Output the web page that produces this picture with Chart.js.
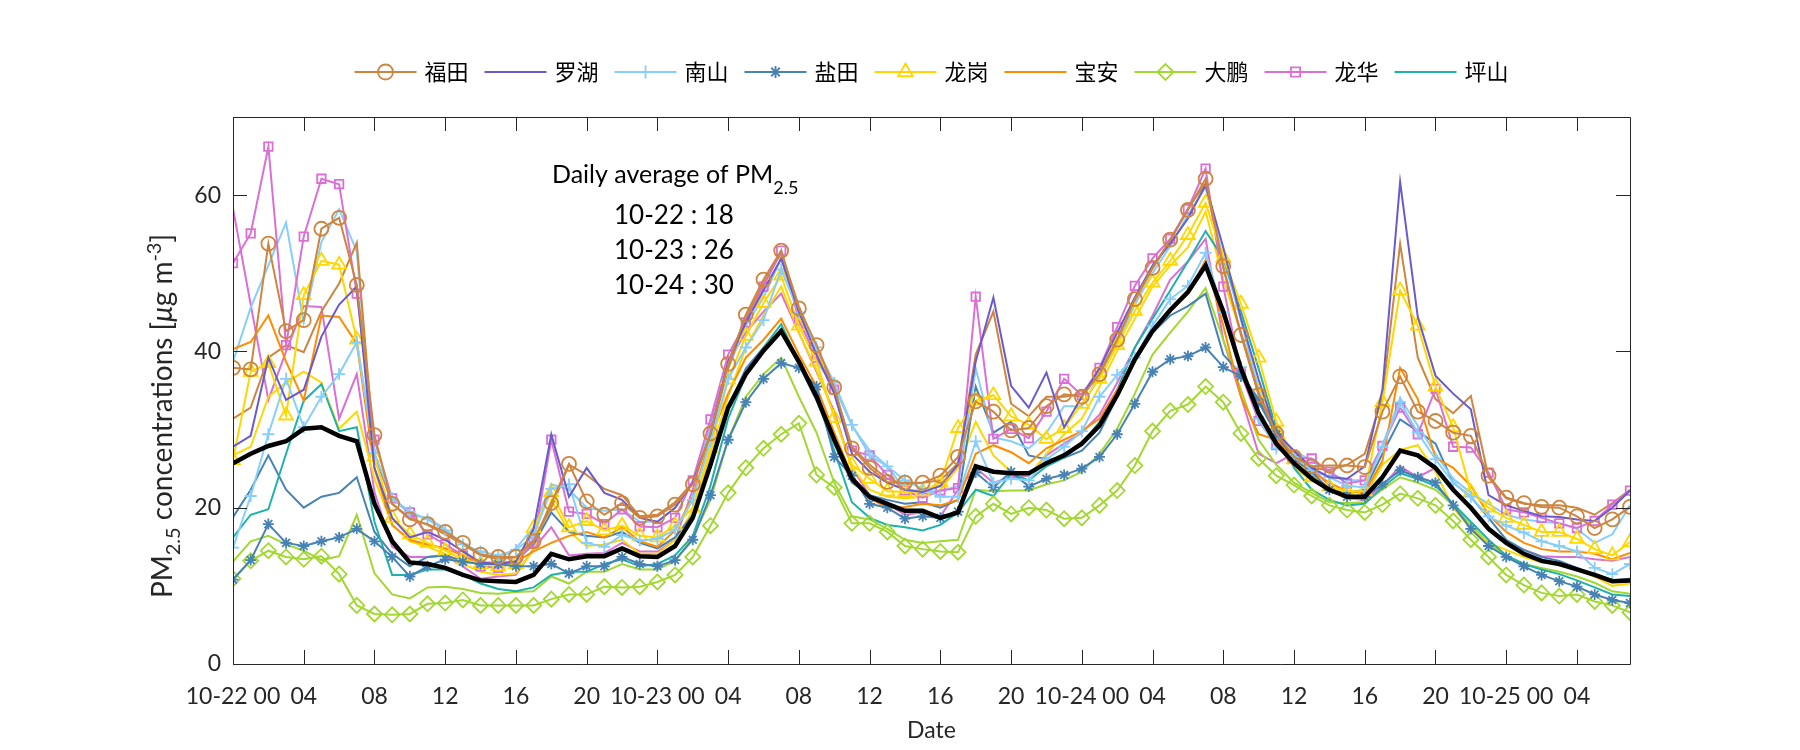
<!DOCTYPE html>
<html>
<head>
<meta charset="utf-8">
<script src="https://cdn.jsdelivr.net/npm/chart.js"></script>
<style>
  body { margin: 0; background: #fff; }
  #wrap { width: 1800px; height: 750px; }
</style>
</head>
<body>
<div id="wrap"><canvas id="pm" width="1800" height="750"></canvas></div>
<script>
// hourly PM2.5, 10-22 00 to 10-25 07 (80 hours)
const days = ['10-22', '10-23', '10-24', '10-25'];
const hours = Array.from({ length: 80 }, (_, i) => i);
const yTicks = [0, 20, 40, 60];

const futian = [37.9, 37.7, 53.8, 42.6, 44.0, 55.7, 57.1, 48.5, 29.3, 20.5, 18.5, 17.9, 16.9, 15.5, 14.0, 13.7, 13.7, 15.7, 20.6, 25.6,
  20.8, 19.1, 20.6, 18.7, 18.9, 20.4, 23.0, 29.5, 38.4, 44.7, 49.2, 52.9, 45.5, 40.8, 35.4, 27.6, 25.1, 23.3, 23.2, 23.2,
  24.1, 26.5, 33.6, 32.3, 29.9, 30.2, 33.0, 34.5, 34.2, 37.1, 41.5, 46.7, 50.7, 54.3, 58.1, 62.1, 50.9, 42.1, 34.4, 29.5,
  26.5, 25.3, 25.4, 25.4, 25.2, 32.3, 36.8, 32.3, 31.1, 29.6, 29.2, 24.1, 21.3, 20.6, 20.1, 20.0, 18.9, 17.4, 18.5, 20.1];
const luohu = [27.8, 29.2, 39.2, 33.8, 35.1, 41.9, 46.0, 48.3, 25.1, 18.7, 16.2, 16.9, 15.9, 14.4, 13.0, 12.8, 13.1, 17.3, 29.4, 21.4,
  25.1, 21.9, 21.0, 18.7, 18.2, 20.0, 23.2, 29.4, 38.7, 43.7, 47.8, 51.9, 45.1, 39.6, 34.6, 26.9, 24.6, 23.2, 22.3, 22.0,
  22.8, 25.5, 38.7, 46.9, 35.6, 32.8, 37.3, 30.3, 34.2, 37.8, 42.4, 46.9, 51.0, 53.8, 57.0, 61.3, 53.3, 44.2, 36.4, 29.6,
  27.3, 25.1, 23.9, 23.7, 25.3, 35.1, 61.7, 44.4, 36.9, 34.6, 32.6, 21.6, 20.3, 19.6, 18.9, 18.8, 18.5, 18.3, 20.0, 22.2];
const nanshan = [14.9, 21.5, 29.4, 36.5, 30.3, 34.2, 37.1, 41.2, 27.0, 21.2, 19.5, 18.5, 17.1, 15.3, 14.4, 13.9, 14.6, 16.4, 22.4, 23.0,
  15.5, 15.0, 16.5, 15.8, 16.0, 17.2, 21.0, 28.5, 36.5, 40.5, 44.0, 50.5, 45.0, 40.5, 36.0, 30.6, 26.7, 25.3, 23.5, 22.4,
  21.4, 21.4, 28.5, 23.2, 23.7, 23.5, 26.2, 27.8, 29.8, 34.2, 37.0, 39.2, 43.3, 46.7, 48.4, 52.6, 45.0, 38.0, 31.4, 27.6,
  26.5, 24.8, 23.9, 22.8, 22.6, 27.8, 33.5, 29.6, 26.2, 23.2, 21.4, 18.9, 17.7, 16.8, 15.7, 15.1, 14.4, 12.3, 11.5, 12.8];
const yantian = [10.8, 13.3, 17.9, 15.5, 15.1, 15.7, 16.2, 17.3, 15.7, 13.7, 11.2, 12.5, 13.4, 13.1, 12.8, 12.8, 12.5, 12.5, 12.8, 11.6,
  12.5, 12.5, 13.7, 12.8, 12.5, 13.3, 15.9, 21.6, 28.7, 33.5, 36.5, 38.5, 37.9, 35.5, 26.5, 24.1, 20.5, 20.0, 18.6, 18.9,
  18.7, 19.5, 24.5, 22.6, 24.6, 22.7, 23.7, 24.2, 25.0, 26.5, 29.4, 33.3, 37.4, 39.0, 39.4, 40.5, 38.0, 36.8, 33.5, 29.4,
  26.2, 24.6, 22.3, 21.4, 21.4, 23.0, 24.8, 23.9, 23.2, 20.3, 17.3, 15.1, 13.7, 12.5, 11.4, 10.6, 9.9, 8.9, 8.2, 7.8];
const longgang = [26.1, 37.4, 38.5, 31.8, 47.2, 51.6, 51.1, 41.5, 26.5, 18.7, 16.6, 15.5, 14.5, 13.4, 12.8, 12.5, 12.8, 17.4, 22.0, 17.5,
  18.3, 17.1, 17.7, 16.4, 16.2, 17.7, 20.0, 27.6, 36.4, 42.0, 46.2, 49.7, 43.3, 38.7, 31.5, 25.5, 23.7, 22.1, 22.0, 22.1,
  23.2, 30.2, 33.7, 34.4, 31.7, 30.6, 28.8, 30.2, 33.3, 36.5, 40.8, 45.2, 48.8, 51.6, 54.9, 59.0, 52.0, 46.1, 39.2, 31.0,
  26.2, 23.9, 22.7, 22.1, 22.1, 33.5, 47.8, 43.3, 35.5, 30.3, 22.0, 20.0, 18.7, 17.8, 16.9, 16.9, 16.0, 14.7, 13.9, 15.6];
const baoan = [40.3, 41.2, 44.6, 38.7, 33.7, 44.6, 44.4, 41.0, 25.0, 17.8, 15.9, 15.3, 14.8, 13.9, 13.0, 13.0, 13.1, 14.4, 15.5, 16.4,
  16.9, 16.2, 17.5, 15.7, 15.0, 17.1, 21.4, 28.9, 34.6, 39.2, 41.5, 44.2, 39.6, 35.5, 29.6, 24.1, 21.2, 20.0, 20.1, 20.5,
  20.3, 21.0, 26.9, 28.0, 27.1, 25.7, 27.6, 28.7, 29.8, 31.4, 35.1, 38.7, 42.6, 45.1, 47.4, 51.7, 43.3, 34.2, 29.4, 28.7,
  26.2, 24.6, 23.2, 22.1, 21.9, 26.0, 37.9, 33.9, 26.4, 25.1, 22.8, 19.1, 16.9, 15.5, 14.7, 14.4, 14.4, 14.1, 13.4, 14.2];
const dapeng = [10.9, 13.2, 14.5, 13.7, 13.4, 13.8, 11.5, 7.5, 6.4, 6.3, 6.4, 7.7, 7.8, 8.2, 7.5, 7.5, 7.5, 7.5, 8.3, 8.9,
  8.9, 9.9, 9.8, 9.9, 10.5, 11.4, 13.7, 17.7, 21.9, 25.1, 27.6, 29.4, 30.8, 24.2, 22.6, 18.0, 18.0, 16.9, 15.1, 14.7,
  14.4, 14.3, 18.9, 20.5, 19.2, 20.0, 19.7, 18.6, 18.7, 20.3, 22.2, 25.4, 29.8, 32.4, 33.2, 35.5, 33.5, 29.5, 26.3, 24.1,
  22.9, 21.5, 20.3, 19.7, 19.4, 20.4, 21.8, 21.2, 20.3, 18.3, 15.9, 13.7, 11.4, 10.1, 9.1, 8.7, 8.9, 8.0, 7.5, 6.6];
const longhua = [51.3, 55.1, 66.2, 40.8, 54.7, 62.1, 61.4, 47.4, 28.7, 21.2, 19.4, 16.6, 15.3, 13.9, 12.5, 12.3, 13.1, 15.5, 28.7, 19.5,
  19.2, 17.9, 19.8, 17.6, 17.5, 18.7, 23.5, 31.3, 39.6, 43.7, 48.3, 52.9, 44.0, 39.2, 35.1, 27.3, 26.7, 24.2, 22.2, 21.3,
  22.2, 22.5, 47.0, 28.8, 30.1, 28.9, 32.3, 36.5, 34.4, 37.9, 43.1, 48.4, 51.9, 54.4, 58.2, 63.4, 48.3, 37.2, 31.1, 28.0,
  26.4, 26.3, 24.6, 23.1, 23.5, 27.9, 32.8, 29.4, 35.2, 27.8, 27.7, 24.5, 19.8, 19.4, 18.7, 18.0, 17.4, 18.3, 20.4, 22.2];
const pingshan = [16.2, 19.1, 19.8, 26.9, 33.7, 35.8, 29.8, 30.3, 18.2, 11.4, 11.4, 12.1, 12.1, 11.4, 10.3, 9.6, 9.3, 9.8, 11.4, 11.8,
  11.8, 12.8, 13.4, 12.5, 12.8, 13.9, 16.4, 22.8, 31.4, 36.9, 40.5, 43.5, 38.7, 34.2, 27.3, 20.7, 18.7, 17.8, 17.5, 17.1,
  17.8, 19.4, 22.3, 21.5, 24.4, 23.5, 25.3, 26.4, 28.2, 31.0, 35.1, 40.5, 44.2, 47.8, 51.5, 55.4, 51.9, 45.1, 37.8, 30.1,
  25.1, 22.3, 21.0, 20.3, 20.5, 22.6, 24.4, 23.7, 22.8, 20.5, 18.2, 15.9, 13.9, 12.8, 12.1, 11.5, 10.7, 9.8, 8.9, 8.7];
const cityMean = [25.7, 26.9, 27.9, 28.5, 30.1, 30.3, 29.2, 28.5, 20.5, 15.7, 13.0, 12.8, 12.3, 11.4, 10.7, 10.6, 10.5, 11.4, 14.1, 13.4,
  13.8, 13.8, 14.8, 13.8, 13.7, 15.1, 18.7, 25.5, 32.8, 37.1, 40.1, 42.6, 38.7, 34.2, 28.7, 23.7, 21.4, 20.5, 19.6, 19.6,
  18.7, 19.4, 25.3, 24.6, 24.4, 24.4, 25.7, 26.7, 28.2, 30.5, 34.4, 39.0, 42.6, 45.3, 47.6, 51.0, 45.1, 37.8, 32.1, 28.2,
  25.7, 23.7, 22.3, 21.4, 21.4, 23.9, 27.3, 26.7, 25.1, 22.3, 20.0, 17.3, 15.5, 14.1, 13.2, 12.8, 12.1, 11.4, 10.6, 10.7];

// second set of stations, plotted without markers and left out of the legend
const futianB = [31.4, 32.8, 39.2, 40.8, 39.9, 45.1, 48.7, 53.9, 26.9, 20.5, 18.7, 17.8, 16.6, 15.3, 13.9, 13.4, 13.7, 15.9, 20.0, 25.5,
  24.2, 22.4, 21.6, 18.9, 19.1, 20.7, 23.2, 29.2, 37.8, 44.2, 48.7, 52.6, 45.8, 40.5, 35.1, 27.8, 25.5, 23.7, 23.0, 23.2,
  23.5, 25.7, 39.6, 45.1, 33.3, 31.7, 34.2, 34.2, 34.6, 37.4, 41.5, 46.5, 50.6, 54.2, 58.3, 61.5, 50.6, 42.4, 34.6, 30.1,
  26.9, 25.1, 24.8, 25.5, 26.9, 34.2, 53.8, 39.2, 33.9, 32.1, 34.3, 23.9, 21.2, 20.5, 20.3, 20.3, 20.0, 19.1, 20.6, 22.3];
const nanshanB = [38.7, 45.6, 51.0, 56.5, 43.7, 54.0, 58.2, 52.8, 26.0, 21.4, 19.1, 18.7, 17.3, 15.3, 14.1, 13.4, 14.8, 17.5, 23.0, 22.3,
  20.0, 19.6, 19.8, 18.2, 18.2, 20.0, 23.2, 30.1, 37.8, 43.3, 46.9, 51.9, 44.4, 38.7, 35.5, 30.5, 27.3, 25.3, 22.3, 22.1,
  22.1, 22.8, 37.8, 29.0, 28.5, 27.6, 29.6, 33.0, 33.0, 36.9, 41.0, 46.0, 50.0, 53.5, 57.5, 61.0, 52.0, 44.0, 35.0, 29.0,
  27.3, 26.0, 24.5, 23.5, 23.5, 28.0, 34.0, 30.5, 26.9, 23.7, 21.9, 20.5, 19.1, 18.5, 18.2, 18.0, 17.3, 15.5, 16.6, 20.3];
const yantianB = [18.8, 22.3, 26.7, 22.3, 20.0, 21.4, 21.9, 23.9, 16.9, 14.1, 12.5, 13.7, 13.9, 13.2, 12.8, 12.8, 13.2, 15.3, 19.4, 16.9,
  16.4, 16.2, 16.9, 15.5, 14.8, 16.2, 19.1, 25.1, 32.8, 37.8, 40.5, 42.8, 38.3, 33.7, 28.2, 23.2, 21.6, 21.0, 20.5, 20.7,
  20.0, 21.0, 35.5, 29.6, 31.0, 26.7, 26.2, 26.4, 27.3, 29.6, 34.2, 38.7, 42.4, 44.6, 45.8, 47.4, 39.6, 37.1, 33.9, 29.4,
  25.5, 24.1, 22.3, 21.9, 22.3, 26.9, 31.3, 29.8, 28.2, 23.2, 21.4, 18.7, 15.9, 14.6, 13.7, 13.2, 12.3, 11.4, 10.7, 10.9];
const longgangB = [26.7, 27.8, 34.2, 36.0, 37.4, 36.0, 30.1, 32.3, 23.7, 17.8, 15.7, 15.0, 14.1, 12.8, 11.8, 11.4, 11.6, 14.6, 21.0, 16.9,
  15.1, 15.3, 15.9, 14.1, 14.1, 15.9, 19.6, 26.9, 34.2, 40.5, 44.6, 48.3, 42.4, 37.6, 31.9, 25.1, 22.3, 21.4, 21.2, 21.4,
  22.3, 25.1, 31.0, 26.7, 24.6, 24.1, 26.9, 29.4, 31.4, 35.5, 40.1, 44.2, 48.3, 51.0, 53.3, 57.9, 49.2, 42.4, 35.5, 30.5,
  25.1, 23.5, 22.3, 21.6, 21.4, 25.5, 27.4, 28.0, 24.6, 20.0, 17.3, 15.5, 14.6, 13.7, 13.0, 12.8, 12.1, 11.2, 10.0, 10.3];
const dapengB = [13.1, 15.7, 16.4, 15.3, 14.5, 13.3, 13.8, 19.1, 11.6, 8.9, 8.4, 9.8, 9.9, 9.6, 9.1, 9.0, 9.2, 9.3, 11.2, 10.3,
  11.8, 11.8, 12.8, 12.1, 12.1, 13.2, 16.2, 21.0, 28.7, 34.2, 37.1, 39.2, 34.2, 29.6, 23.2, 18.9, 18.5, 17.3, 15.9, 15.5,
  15.7, 15.9, 22.3, 22.1, 22.2, 22.2, 23.0, 23.5, 24.6, 26.9, 30.1, 34.6, 39.6, 42.4, 45.1, 48.1, 41.5, 35.1, 28.7, 25.5,
  23.2, 21.9, 20.7, 20.6, 20.7, 22.3, 23.9, 23.2, 22.3, 20.3, 17.8, 15.5, 13.7, 12.8, 12.3, 11.8, 11.2, 10.4, 9.3, 9.0];
const longhuaB = [58.3, 46.0, 33.8, 40.0, 45.8, 45.7, 31.4, 37.1, 22.0, 15.0, 13.7, 13.7, 13.9, 12.5, 10.9, 11.2, 11.4, 14.8, 17.5, 13.9,
  14.1, 14.2, 15.5, 14.4, 14.4, 15.9, 22.3, 30.5, 38.7, 42.4, 45.1, 47.4, 42.4, 37.4, 32.3, 25.1, 21.6, 20.5, 19.1, 19.4,
  18.9, 22.3, 25.1, 23.2, 23.9, 24.1, 26.7, 28.2, 29.6, 31.9, 36.0, 40.5, 44.6, 49.2, 51.5, 54.4, 41.5, 34.2, 26.9, 25.7,
  26.9, 25.1, 22.8, 21.2, 21.0, 22.8, 25.3, 23.9, 25.1, 22.3, 20.0, 17.5, 15.5, 14.6, 13.8, 13.7, 13.7, 13.4, 13.2, 13.7];

const dailyMeans = ['10-22 : 18', '10-23 : 26', '10-24 : 30'];

const AXIS = '#262626';
const FONT = 'Lato, "Liberation Sans", sans-serif';
const CJK = '"Noto Sans CJK SC", sans-serif';

const toPoints = arr => arr.map((v, i) => ({ x: hours[i], y: v }));

function station(label, data, color, style, radius) {
  return {
    label: label,
    data: toPoints(data),
    borderColor: color,
    backgroundColor: color,
    borderWidth: 2,
    pointStyle: style || 'circle',
    pointRadius: style ? radius : 0,
    pointHoverRadius: style ? radius : 0,
    pointBorderWidth: 1.8,
    pointBorderColor: color,
    pointBackgroundColor: 'rgba(0,0,0,0)',
    inLegend: true
  };
}

function extra(data, color) {
  const ds = station('', data, color, null, 0);
  ds.inLegend = false;
  return ds;
}

const mean = {
  label: 'mean',
  data: toPoints(cityMean),
  borderColor: '#000',
  borderWidth: 4.5,
  pointRadius: 0,
  pointHoverRadius: 0,
  inLegend: false
};

// index 0 is drawn on top in Chart.js
const datasets = [
  mean,
  station('福田', futian, '#CD853F', 'circle', 7),
  station('罗湖', luohu, '#6A5ACD'),
  station('南山', nanshan, '#87CEFA', 'cross', 6),
  station('盐田', yantian, '#4682B4', 'star', 5.5),
  station('龙岗', longgang, '#FFD700', 'triangle', 8),
  station('宝安', baoan, '#FF8C00'),
  station('大鹏', dapeng, '#A2D831', 'rectRot', 7.5),
  station('龙华', longhua, '#DA70D6', 'rect', 6),
  station('坪山', pingshan, '#20B2AA'),
  extra(futianB, '#CD853F'),
  extra(nanshanB, '#87CEFA'),
  extra(yantianB, '#4682B4'),
  extra(longgangB, '#FFD700'),
  extra(dapengB, '#A2D831'),
  extra(longhuaB, '#DA70D6')
];

// draw a run of text pieces (for sub/superscripts), left to right
function richText(ctx, parts, x, y) {
  let cx = x;
  parts.forEach(p => {
    ctx.font = p.font;
    ctx.fillText(p.t, cx, y + (p.dy || 0));
    cx += ctx.measureText(p.t).width;
  });
  return cx - x;
}
function richWidth(ctx, parts) {
  let w = 0;
  parts.forEach(p => { ctx.font = p.font; w += ctx.measureText(p.t).width; });
  return w;
}

const decor = {
  id: 'decor',
  afterDraw(chart) {
    const { ctx, chartArea: a, scales: { x, y } } = chart;
    const TICK = 14;
    ctx.save();

    // box and inward ticks
    ctx.strokeStyle = AXIS;
    ctx.lineWidth = 1;
    ctx.beginPath();
    ctx.rect(Math.round(a.left) + 0.5, Math.round(a.top) + 0.5, Math.round(a.right - a.left), Math.round(a.bottom - a.top));
    x.ticks.forEach(t => {
      const px = Math.round(x.getPixelForValue(t.value)) + 0.5;
      ctx.moveTo(px, a.bottom); ctx.lineTo(px, a.bottom - TICK);
      ctx.moveTo(px, a.top); ctx.lineTo(px, a.top + TICK);
    });
    yTicks.forEach(v => {
      const py = Math.round(y.getPixelForValue(v)) + 0.5;
      ctx.moveTo(a.left, py); ctx.lineTo(a.left + TICK, py);
      ctx.moveTo(a.right, py); ctx.lineTo(a.right - TICK, py);
    });
    ctx.stroke();

    ctx.fillStyle = AXIS;
    ctx.textBaseline = 'alphabetic';

    // x axis title
    ctx.font = '23px ' + FONT;
    ctx.textAlign = 'center';
    ctx.fillText('Date', (a.left + a.right) / 2, 738);

    // y axis title, rotated
    ctx.textAlign = 'left';
    const yBig = '28px ' + FONT, ySmall = '20px ' + FONT;
    const yParts = [
      { t: 'PM', font: yBig }, { t: '2.5', font: ySmall, dy: 8 },
      { t: ' concentrations [', font: yBig }, { t: 'μ', font: 'italic ' + yBig },
      { t: 'g m', font: yBig }, { t: '-3', font: ySmall, dy: -11 }, { t: ']', font: yBig }
    ];
    ctx.save();
    ctx.translate(162, 416);
    ctx.rotate(-Math.PI / 2);
    richText(ctx, yParts, -richWidth(ctx, yParts) / 2, 10);
    ctx.restore();

    // daily average note
    const nBig = '25px ' + FONT, nSmall = '18px ' + FONT;
    ctx.fillStyle = '#000';
    richText(ctx, [{ t: 'Daily average of PM', font: nBig }, { t: '2.5', font: nSmall, dy: 11 }], 552, 183);
    ctx.font = '26px ' + FONT;
    dailyMeans.forEach((s, i) => ctx.fillText(s, 614, 224 + i * 35));

    // legend: line sample with marker, then name
    const items = chart.data.datasets.filter(d => d.inLegend);
    const LINE = 62, GAP = 8, SPACE = 16;
    ctx.font = '22px ' + CJK;
    const widths = items.map(d => LINE + GAP + ctx.measureText(d.label).width);
    const total = widths.reduce((s, w) => s + w, 0) + SPACE * (items.length - 1);
    let lx = (a.left + a.right) / 2 - total / 2;
    const ly = 72;
    items.forEach((d, i) => {
      ctx.strokeStyle = d.borderColor;
      ctx.lineWidth = 2;
      ctx.beginPath();
      ctx.moveTo(lx, ly); ctx.lineTo(lx + LINE, ly);
      ctx.stroke();
      if (d.pointRadius > 0 && Chart.helpers && Chart.helpers.drawPoint) {
        ctx.fillStyle = 'rgba(0,0,0,0)';
        ctx.lineWidth = d.pointBorderWidth;
        Chart.helpers.drawPoint(ctx, { pointStyle: d.pointStyle, radius: d.pointRadius + 0.5, rotation: 0, borderWidth: d.pointBorderWidth }, lx + LINE / 2, ly);
      }
      ctx.fillStyle = '#000';
      ctx.font = '22px ' + CJK;
      ctx.textBaseline = 'middle';
      ctx.fillText(d.label, lx + LINE + GAP, ly);
      lx += widths[i] + SPACE;
    });
    ctx.restore();
  }
};

new Chart(document.getElementById('pm'), {
  type: 'line',
  data: { datasets: datasets },
  options: {
    responsive: false,
    animation: false,
    devicePixelRatio: 1,
    layout: { padding: { top: 117, right: 170, bottom: 0, left: 0 } },
    plugins: { legend: { display: false }, tooltip: { enabled: false } },
    elements: { line: { tension: 0 } },
    scales: {
      x: {
        type: 'linear',
        min: 0,
        max: 79,
        grid: { display: false, drawTicks: false },
        border: { display: false },
        ticks: {
          stepSize: 4,
          includeBounds: false,
          autoSkip: false,
          maxRotation: 0,
          padding: 19,
          color: AXIS,
          font: { family: FONT, size: 23 },
          callback: v => {
            const h = v % 24;
            return h === 0 ? days[Math.floor(v / 24)] + ' 00' : String(h).padStart(2, '0');
          }
        },
        afterFit: s => { s.height = 86; }
      },
      y: {
        min: 0,
        max: 70,
        grid: { display: false, drawTicks: false },
        border: { display: false },
        ticks: {
          stepSize: 20,
          includeBounds: false,
          padding: 12,
          color: AXIS,
          font: { family: FONT, size: 23 }
        },
        afterFit: s => { s.width = 233; }
      }
    }
  },
  plugins: [decor]
});
</script>
</body>
</html>
